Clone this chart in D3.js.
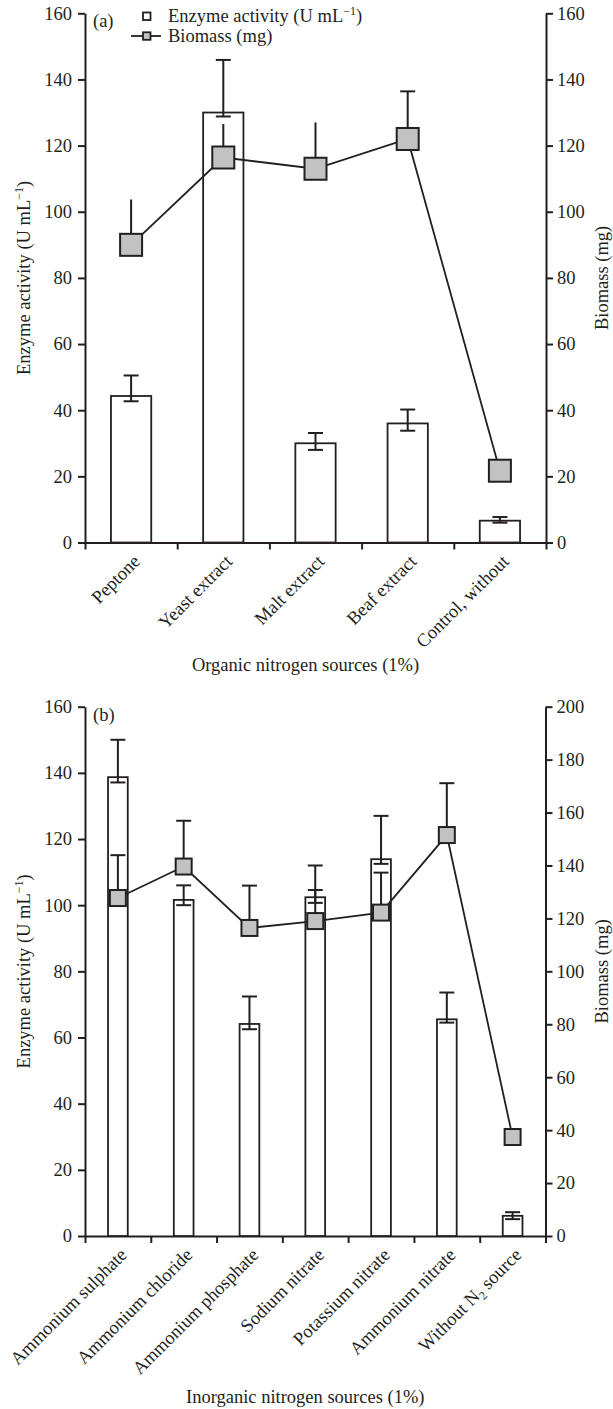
<!DOCTYPE html>
<html>
<head>
<meta charset="utf-8">
<script src="https://cdn.jsdelivr.net/npm/d3@7"></script>
<style>
  body { margin: 0; background: #fff; }
  svg text { font-family: "Liberation Serif", "Times New Roman", serif; fill: #231f20; }
  .axis path, .axis line { stroke: #231f20; stroke-width: 2; }
  .axis text { font-size: 18.5px; }
</style>
</head>
<body>
<svg width="613" height="1409"></svg>
<script>
// Panel (a): organic nitrogen sources
const organicCats = ['Peptone', 'Yeast extract', 'Malt extract', 'Beaf extract', 'Control, without']
const organicEnzyme = [44.3, 130, 30, 36, 6.6]
const organicEnzymeHi = [50.5, 145.9, 33.1, 40.2, 7.7]
const organicEnzymeLo = [42.7, 128.8, 28, 33.8, 6.0]
const organicBiomass = [90, 116.4, 113, 122, 21.7]
const organicBiomassHi = [103.7, 126.5, 127, 136.4, null]

// Panel (b): inorganic nitrogen sources
const inorganicCats = ['Ammonium sulphate', 'Ammonium chloride', 'Ammonium phosphate',
  'Sodium nitrate', 'Potassium nitrate', 'Ammonium nitrate', 'Without N2 source']
const inorganicEnzyme = [138.7, 101.6, 64.1, 102.4, 113.9, 65.5, 6.1]
const inorganicEnzymeHi = [150, 106, 72.4, 104.6, 127, 73.6, 7.2]
const inorganicEnzymeLo = [137.1, 100, 62.5, 100.7, 112.5, 64.5, 5.1]
const inorganicBiomass = [127.7, 139.6, 116.4, 119, 122.2, 151.5, 37.4]
const inorganicBiomassHi = [143.9, 156.9, 132.4, 140, 137.3, 171.1, null]

const leftTicks = [0, 20, 40, 60, 80, 100, 120, 140, 160]
const rightTicksA = [0, 20, 40, 60, 80, 100, 120, 140, 160]
const rightTicksB = [0, 20, 40, 60, 80, 100, 120, 140, 160, 180, 200]

const ink = '#231f20'
const svg = d3.select('svg')

function drawPanel(p) {
  const g = svg.append('g')
  const n = p.cats.length

  const x = d3.scaleBand().domain(p.cats).range([p.left, p.right]).padding(0)
  const xIdx = d3.scaleLinear().domain([0, n]).range([p.left, p.right])
  const yL = d3.scaleLinear().domain([0, 160]).range([p.bottom, p.top])
  const yR = d3.scaleLinear().domain([0, d3.max(p.rightTicks)]).range([p.bottom, p.top])
  const cx = d => x(d) + x.bandwidth() / 2
  const barW = x.bandwidth() * p.barFrac

  // axes
  g.append('g').attr('class', 'axis')
    .attr('transform', `translate(${p.left},0)`)
    .call(d3.axisLeft(yL).tickValues(leftTicks).tickSize(7).tickSizeOuter(0).tickPadding(6))
  g.append('g').attr('class', 'axis')
    .attr('transform', `translate(${p.right},0)`)
    .call(d3.axisRight(yR).tickValues(p.rightTicks).tickSize(7).tickSizeOuter(0).tickPadding(4))
  g.append('g').attr('class', 'axis')
    .attr('transform', `translate(0,${p.bottom})`)
    .call(d3.axisBottom(xIdx).tickValues(d3.range(n + 1)).tickSize(7).tickSizeOuter(0).tickFormat(''))
  g.selectAll('.axis .domain').attr('stroke', ink)

  // bars
  g.selectAll('rect.bar')
    .data(p.cats)
    .enter()
    .append('rect')
    .attr('class', 'bar')
    .attr('x', d => cx(d) - barW / 2)
    .attr('y', (d, i) => yL(p.enzyme[i]))
    .attr('width', barW)
    .attr('height', (d, i) => p.bottom - yL(p.enzyme[i]))
    .attr('fill', '#fff')
    .attr('stroke', ink)
    .attr('stroke-width', 1.8)

  // biomass line
  const line = d3.line()
    .x((d, i) => cx(p.cats[i]))
    .y(d => yR(d))
  g.append('path')
    .datum(p.biomass)
    .attr('d', line)
    .attr('fill', 'none')
    .attr('stroke', ink)
    .attr('stroke-width', 1.8)

  // biomass error bars (upper only)
  p.cats.forEach((c, i) => {
    const hi = p.biomassHi[i]
    if (hi == null) return
    g.append('line')
      .attr('x1', cx(c)).attr('x2', cx(c))
      .attr('y1', yR(p.biomass[i])).attr('y2', yR(hi))
      .attr('stroke', ink).attr('stroke-width', 2)
    if (p.bioCaps[i]) {
      g.append('line')
        .attr('x1', cx(c) - 7.5).attr('x2', cx(c) + 7.5)
        .attr('y1', yR(hi)).attr('y2', yR(hi))
        .attr('stroke', ink).attr('stroke-width', 2)
    }
  })

  // enzyme error bars
  p.cats.forEach((c, i) => {
    const hi = yL(p.enzymeHi[i])
    const lo = yL(p.enzymeLo[i])
    g.append('line')
      .attr('x1', cx(c)).attr('x2', cx(c))
      .attr('y1', lo).attr('y2', hi)
      .attr('stroke', ink).attr('stroke-width', 2)
    ;[hi, lo].forEach(yy => {
      g.append('line')
        .attr('x1', cx(c) - 7.5).attr('x2', cx(c) + 7.5)
        .attr('y1', yy).attr('y2', yy)
        .attr('stroke', ink).attr('stroke-width', 2)
    })
  })

  // biomass markers
  g.selectAll('rect.marker')
    .data(p.biomass)
    .enter()
    .append('rect')
    .attr('class', 'marker')
    .attr('x', (d, i) => cx(p.cats[i]) - p.marker / 2)
    .attr('y', d => yR(d) - p.marker / 2)
    .attr('width', p.marker)
    .attr('height', p.marker)
    .attr('fill', '#c2c2c2')
    .attr('stroke', ink)
    .attr('stroke-width', 2)

  // category labels
  const labels = g.selectAll('text.cat')
    .data(p.cats)
    .enter()
    .append('text')
    .attr('class', 'cat')
    .attr('transform', d => `translate(${cx(d) + 10},${p.bottom + 20}) rotate(-45)`)
    .attr('text-anchor', 'end')
    .style('font-size', '18.5px')
  labels.each(function (d) {
    const t = d3.select(this)
    const m = d.match(/^(.*N)2( .*)$/)
    if (m) {
      t.append('tspan').text(m[1])
      t.append('tspan').attr('dy', 4).style('font-size', '12px').text('2')
      t.append('tspan').attr('dy', -4).text(m[2])
    } else {
      t.text(d)
    }
  })

  // axis titles
  const midY = (p.top + p.bottom) / 2
  const yt = g.append('text')
    .attr('transform', `translate(${p.left - 55},${midY}) rotate(-90)`)
    .attr('text-anchor', 'middle')
    .style('font-size', '18.5px')
  yt.append('tspan').text('Enzyme activity (U mL')
  yt.append('tspan').attr('dy', -7).style('font-size', '12px').text('\u22121')
  yt.append('tspan').attr('dy', 7).text(')')

  g.append('text')
    .attr('transform', `translate(${p.right + 62},${midY}) rotate(-90)`)
    .attr('text-anchor', 'middle')
    .style('font-size', '18.5px')
    .text('Biomass (mg)')

  g.append('text')
    .attr('x', (p.left + p.right) / 2 - 10)
    .attr('y', p.titleY)
    .attr('text-anchor', 'middle')
    .style('font-size', '18.5px')
    .text(p.title)

  g.append('text')
    .attr('x', p.left + 8)
    .attr('y', p.top + 14)
    .style('font-size', '18.5px')
    .text(p.tag)

  return { x, yL, yR, g }
}

const a = drawPanel({
  cats: organicCats, enzyme: organicEnzyme, enzymeHi: organicEnzymeHi, enzymeLo: organicEnzymeLo,
  biomass: organicBiomass, biomassHi: organicBiomassHi, bioCaps: [false, false, false, true, false],
  rightTicks: rightTicksA, left: 85, right: 546, top: 13.3, bottom: 542.5,
  barFrac: 0.437, marker: 22, title: 'Organic nitrogen sources (1%)', titleY: 671, tag: '(a)'
})

drawPanel({
  cats: inorganicCats, enzyme: inorganicEnzyme, enzymeHi: inorganicEnzymeHi, enzymeLo: inorganicEnzymeLo,
  biomass: inorganicBiomass, biomassHi: inorganicBiomassHi, bioCaps: [true, true, true, true, true, true, true],
  rightTicks: rightTicksB, left: 85, right: 545.5, top: 706.7, bottom: 1236,
  barFrac: 0.30, marker: 16, title: 'Inorganic nitrogen sources (1%)', titleY: 1403, tag: '(b)'
})

// legend (panel a)
const leg = a.g.append('g')
leg.append('rect')
  .attr('x', 143).attr('y', 12.5).attr('width', 7.5).attr('height', 7.5)
  .attr('fill', '#fff').attr('stroke', ink).attr('stroke-width', 1.8)
const lt = leg.append('text').attr('x', 168).attr('y', 22).style('font-size', '18.5px')
lt.append('tspan').text('Enzyme activity (U mL')
lt.append('tspan').attr('dy', -7).style('font-size', '12px').text('\u22121')
lt.append('tspan').attr('dy', 7).text(')')
leg.append('line')
  .attr('x1', 131).attr('x2', 161).attr('y1', 36).attr('y2', 36)
  .attr('stroke', ink).attr('stroke-width', 1.8)
leg.append('rect')
  .attr('x', 143).attr('y', 32.3).attr('width', 7.5).attr('height', 7.5)
  .attr('fill', '#c2c2c2').attr('stroke', ink).attr('stroke-width', 1.8)
leg.append('text').attr('x', 168).attr('y', 42).style('font-size', '18.5px').text('Biomass (mg)')
</script>
</body>
</html>
